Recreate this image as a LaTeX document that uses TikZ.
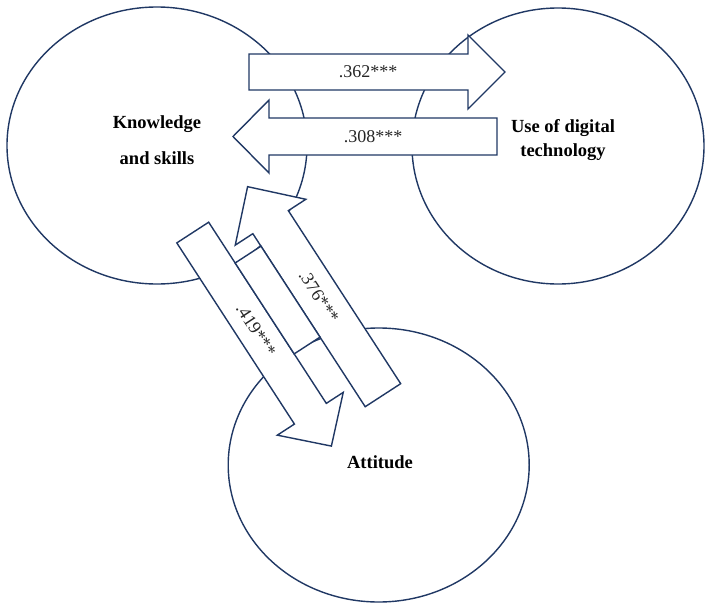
\documentclass[tikz,border=0pt]{standalone}
\usepackage{fontspec}
\setmainfont{Liberation Serif}
\usetikzlibrary{shapes.geometric}
\definecolor{navy}{RGB}{32,56,100}
\begin{document}
\begin{tikzpicture}[x=1pt,y=-1pt,
  bubble/.style={ellipse,draw=navy,fill=white,line width=1.4pt,inner sep=0pt},
  blockarrow/.style={draw=navy,fill=white,line width=1.4pt,line join=miter},
  title/.style={font=\fontsize{18.5}{24}\selectfont\bfseries,align=center,inner sep=0pt},
  coef/.style={font=\fontsize{18}{20}\selectfont,text=black!85,inner sep=0pt}]
\useasboundingbox (0,0) rectangle (705,603);
% circles
\node[bubble,minimum width=300pt,minimum height=277pt] (know) at (157,145.5) {};
\node[bubble,minimum width=292pt,minimum height=276pt] (use) at (558,146) {};
\node[bubble,minimum width=301pt,minimum height=274pt] (att) at (378.7,465) {};
% horizontal block arrows
\draw[blockarrow] (249,54) -- (468,54) -- (468,35) -- (505,72) -- (468,109) -- (468,90) -- (249,90) -- cycle;
\draw[blockarrow] (497,118) -- (269,118) -- (269,100) -- (233,136.5) -- (269,173) -- (269,155) -- (497,155) -- cycle;
% diagonal block arrows (s along the arrow, n across it)
\begin{scope}[x={(0.5446pt,-0.8387pt)},y={(0.8387pt,0.5446pt)}]
  % .419*** : Knowledge -> Attitude
  \draw[blockarrow] (300,16) -- (516,16) -- (516,-4.4) -- (554.6,35) -- (516,74.2) -- (516,54) -- (300,54) -- cycle;
  % .376*** : Attitude -> Knowledge
  \draw[blockarrow] (540,84.8) -- (333.7,84.8) -- (333.7,63.8) -- (291.4,106) -- (333.7,148) -- (333.7,127.1) -- (540,127.1) -- cycle;
  % strip between the two arrows
  \draw[blockarrow] (348.6,54) -- (457,54) -- (457,84.8) -- (348.6,84.8) -- cycle;
  \node[coef,rotate=-57] (c419) at (416.3,35) {.419***};
  \node[coef,rotate=-57] (c376) at (422.4,106) {.376***};
\end{scope}
% labels
\node[coef] (c362) at (368,72) {.362***};
\node[coef] (c308) at (373,136.5) {.308***};
% titles
\node[title] (tknow) at (157,140) {Knowledge\\[12pt]and skills};
\node[title] (tuse) at (563,140) {Use of digital\\technology};
\node[title] (tatt) at (380,462) {Attitude};
\end{tikzpicture}
\end{document}
